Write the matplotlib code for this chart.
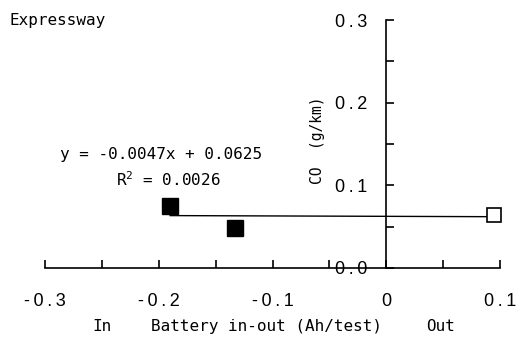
import matplotlib
matplotlib.use("Agg")
import matplotlib.pyplot as plt
from matplotlib.ticker import MultipleLocator

plt.rcParams['font.family'] = ['DejaVu Sans Mono', 'DejaVu Sans']
plt.rcParams['mathtext.default'] = 'regular'

# data
battery_in = [-0.19, -0.133]      # filled squares
co_in = [0.075, 0.048]
battery_out = [0.095]             # open square
co_out = [0.064]
slope = -0.0047
intercept = 0.0625
xticks = [-0.3, -0.2, -0.1, 0.0, 0.1]
xtick_labels = ["-0.3", "-0.2", "-0.1", "0", "0.1"]
yticks = [0.0, 0.1, 0.2, 0.3]
ytick_labels = ["0.0", "0.1", "0.2", "0.3"]


def spaced(s):
    # tick numbers are drawn with wide letter spacing
    return "\u2009".join(s)


fig = plt.figure(figsize=(5.18, 3.45), dpi=100)
ax = fig.add_axes([0.0869, 0.2232, 0.8784, 0.7188])

ax.set_xlim(-0.3, 0.1)
ax.set_ylim(0.0, 0.3)

ax.spines['top'].set_visible(False)
ax.spines['right'].set_visible(False)
ax.spines['left'].set_position(('data', 0))
ax.spines['bottom'].set_position(('data', 0))
for s in ['left', 'bottom']:
    ax.spines[s].set_linewidth(1.2)

ax.set_xticks(xticks)
ax.set_xticklabels([spaced(t) for t in xtick_labels])
ax.set_yticks(yticks)
ax.set_yticklabels([spaced(t) for t in ytick_labels])
ax.xaxis.set_minor_locator(MultipleLocator(0.05))
ax.yaxis.set_minor_locator(MultipleLocator(0.05))
ax.tick_params(axis='x', which='both', direction='in', length=6, width=1.2,
               labelsize=13, pad=18)
ax.tick_params(axis='y', which='both', direction='in', length=6, width=1.2,
               labelsize=13, pad=13.5)
for lab in ax.get_xticklabels() + ax.get_yticklabels():
    lab.set_family(['Liberation Sans', 'DejaVu Sans'])

# trend line over the range of the points
xs = battery_in + battery_out
x0, x1 = min(xs), max(xs)
ax.plot([x0, x1], [slope * x0 + intercept, slope * x1 + intercept],
        color='black', lw=1.0, zorder=2)

ax.plot(battery_in, co_in, 's', color='black', ms=11.5, zorder=3)
ax.plot(battery_out, co_out, 's', mfc='white', mec='black', mew=1.2,
        ms=10.5, zorder=3, clip_on=False)

small = 11.5
fig.text(0.019, 0.942, "Expressway", fontsize=small, va='center')
fig.text(0.311, 0.551, "y = -0.0047x + 0.0625", fontsize=small,
         ha='center', va='center')
fig.text(0.324, 0.478, "R$^2$ = 0.0026", fontsize=small,
         ha='center', va='center')
fig.text(0.612, 0.594, "CO  (g/km)", fontsize=10.5, rotation=90,
         ha='center', va='center')

fig.text(0.197, 0.055, "In", fontsize=small, ha='center', va='center')
fig.text(0.515, 0.055, "Battery in-out (Ah/test)", fontsize=small,
         ha='center', va='center')
fig.text(0.851, 0.055, "Out", fontsize=small, ha='center', va='center')

fig.savefig('out.png', dpi=100)
